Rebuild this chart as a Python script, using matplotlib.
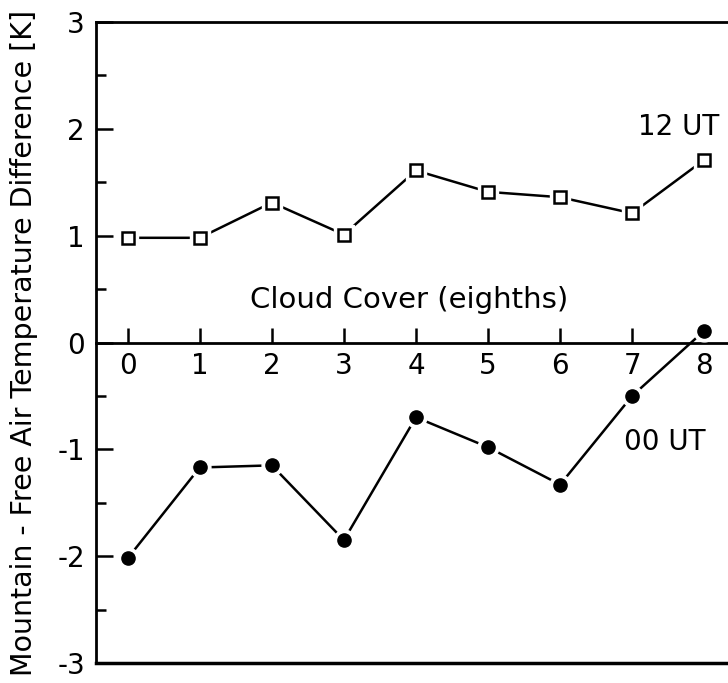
import matplotlib
matplotlib.use("Agg")
import matplotlib.pyplot as plt
import numpy as np

plt.rcParams['font.family'] = ['DejaVu Sans']

cloud = [0, 1, 2, 3, 4, 5, 6, 7, 8]
ut12 = [0.98, 0.98, 1.31, 1.01, 1.61, 1.41, 1.36, 1.21, 1.71]
ut00 = [-2.02, -1.17, -1.15, -1.85, -0.70, -0.98, -1.33, -0.50, 0.11]

fig = plt.figure(figsize=(7.28, 6.83), dpi=100)
ax = fig.add_axes([96/728, 20/683, 1 - 96/728, 641/683])

lw = 1.8
# lines, then white "halo" markers to leave small gaps, then real markers
ax.plot(cloud, ut12, color='black', lw=lw, zorder=2)
ax.plot(cloud, ut12, ls='none', marker='s', ms=15, mfc='white', mec='white', zorder=3)
ax.plot(cloud, ut12, ls='none', marker='s', ms=8, mfc='white', mec='black', mew=1.8, zorder=4)

ax.plot(cloud, ut00, color='black', lw=lw, zorder=2)
ax.plot(cloud, ut00, ls='none', marker='o', ms=15, mfc='white', mec='white', zorder=3)
ax.plot(cloud, ut00, ls='none', marker='o', ms=9.5, mfc='black', mec='black', zorder=4)

ax.set_xlim(-0.44, 8.33)
ax.set_ylim(-3, 3)

ax.spines['right'].set_visible(False)
ax.spines['bottom'].set_position(('data', 0))
for s in ['left', 'top', 'bottom']:
    ax.spines[s].set_linewidth(2)
ax.axhline(-3, color='black', lw=2.5, clip_on=False)

ax.set_yticks([-3, -2, -1, 0, 1, 2, 3])
ax.set_yticklabels(['-3', '-2', '-1', '0', '1', '2', '3'])
ax.set_yticks(np.arange(-2.5, 3, 1), minor=True)
ax.tick_params(axis='y', which='major', direction='in', length=12, width=1.8,
               labelsize=20, pad=8)
ax.tick_params(axis='y', which='minor', direction='in', length=7, width=1.8)

ax.set_xticks(cloud)
ax.tick_params(axis='x', which='major', direction='in', length=11, width=1.8,
               labelsize=20, pad=7)

ax.set_ylabel('Mountain - Free Air Temperature Difference [K]', fontsize=20.5)
ax.yaxis.set_label_coords(-0.092, 0.5)

ax.text(3.9, 0.4, 'Cloud Cover (eighths)', fontsize=21, ha='center', va='center')
ax.text(7.65, 2.02, '12 UT', fontsize=20, ha='center', va='center')
ax.text(7.45, -0.93, '00 UT', fontsize=20, ha='center', va='center')

fig.savefig('out.png', dpi=100)
